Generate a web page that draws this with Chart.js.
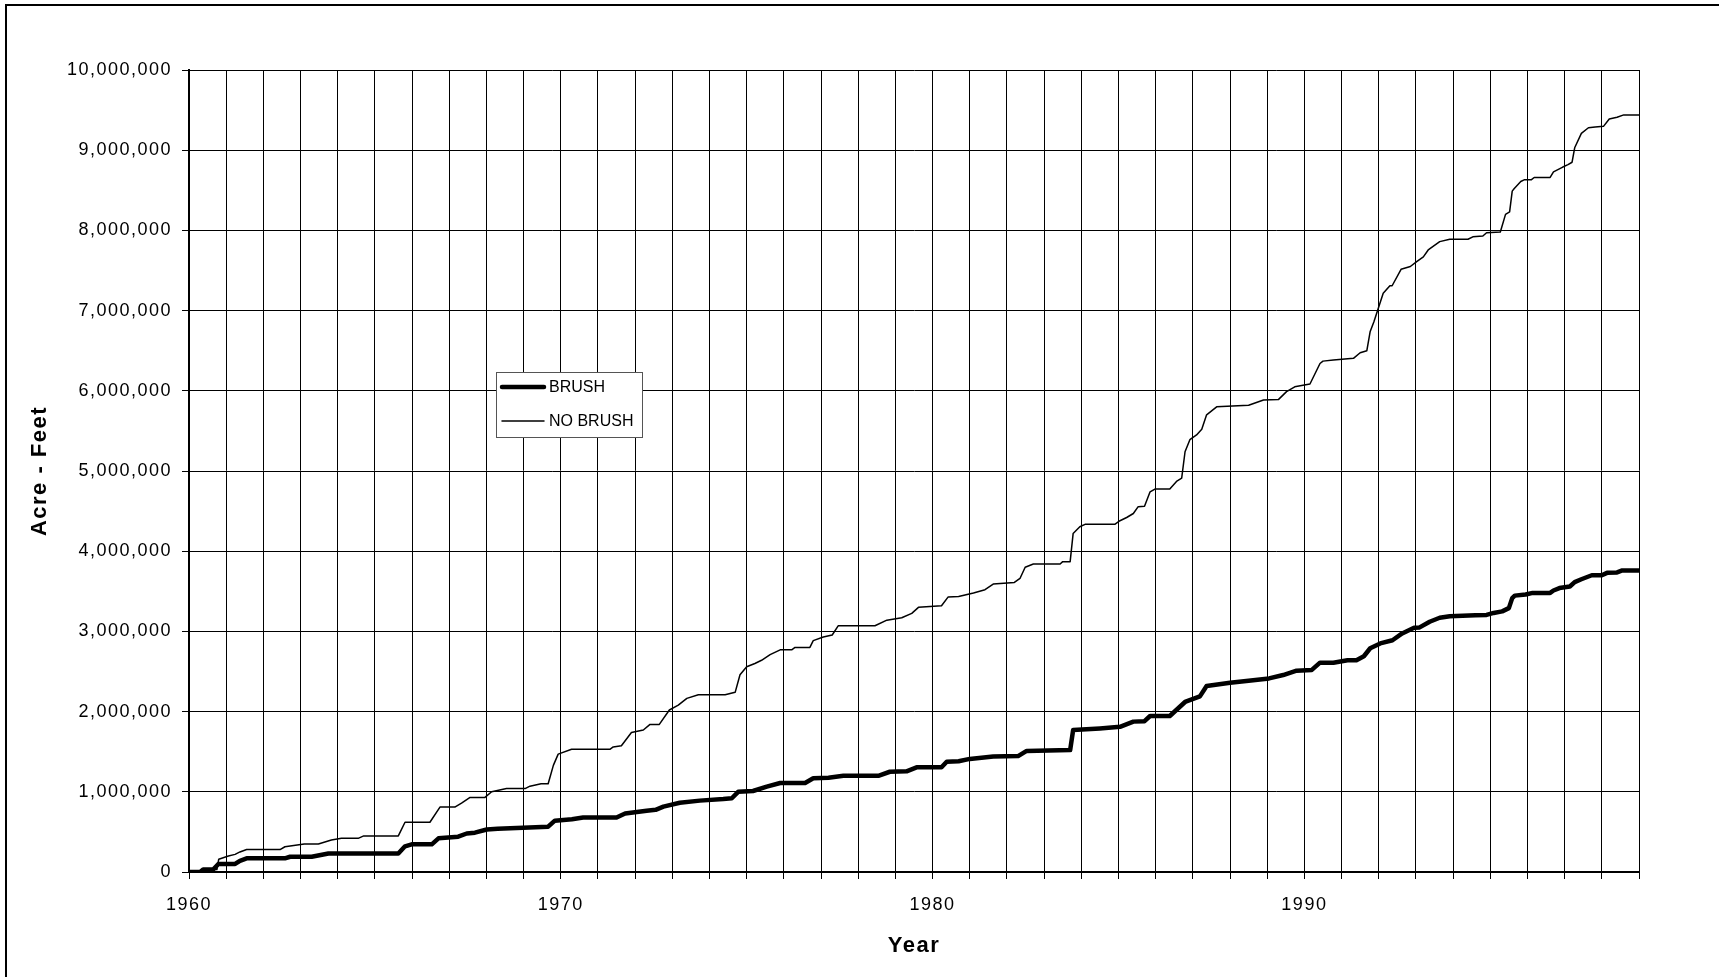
<!DOCTYPE html>
<html>
<head>
<meta charset="utf-8">
<title>Cumulative Acre-Feet, Brush vs. No Brush</title>
<script src="https://cdn.jsdelivr.net/npm/chart.js@4/dist/chart.umd.min.js"></script>
<style>
  html, body { margin: 0; padding: 0; background: #fff; }
  canvas { display: block; }
</style>
</head>
<body>
<canvas id="chart" width="1719" height="977"></canvas>
<script>
// Cumulative volume, [year, acre-feet] at each change of slope
const brush = [
  [1960.00, 0], [1960.30, 0], [1960.38, 30000], [1960.65, 30000], [1960.79, 100000],
  [1961.24, 100000], [1961.37, 140000], [1961.55, 170000], [1962.58, 170000], [1962.72, 190000],
  [1963.30, 190000], [1963.75, 230000], [1965.63, 230000], [1965.81, 320000], [1965.99, 345000],
  [1966.53, 345000], [1966.71, 420000], [1967.24, 440000], [1967.47, 480000], [1967.69, 490000],
  [1968.01, 530000], [1968.30, 540000], [1969.66, 565000], [1969.84, 640000], [1970.30, 657000],
  [1970.60, 680000], [1971.50, 680000], [1971.73, 730000], [1972.31, 765000], [1972.55, 775000],
  [1972.76, 815000], [1973.20, 864000], [1973.74, 890000], [1974.37, 910000], [1974.60, 920000],
  [1974.77, 1000000], [1975.17, 1010000], [1975.54, 1064000], [1975.90, 1110000], [1976.57, 1110000],
  [1976.79, 1168000], [1977.20, 1175000], [1977.60, 1200000], [1978.54, 1200000], [1978.85, 1250000],
  [1979.30, 1255000], [1979.57, 1305000], [1980.24, 1305000], [1980.38, 1375000], [1980.70, 1380000],
  [1981.00, 1410000], [1981.63, 1440000], [1982.30, 1445000], [1982.53, 1510000], [1983.70, 1520000],
  [1983.78, 1770000], [1984.50, 1790000], [1985.04, 1810000], [1985.40, 1875000], [1985.70, 1880000],
  [1985.85, 1945000], [1986.38, 1945000], [1986.79, 2120000], [1987.19, 2190000], [1987.37, 2320000],
  [1988.00, 2360000], [1988.50, 2385000], [1989.05, 2414000], [1989.43, 2456000], [1989.79, 2510000],
  [1990.20, 2520000], [1990.42, 2610000], [1990.78, 2610000], [1991.16, 2640000], [1991.40, 2640000],
  [1991.60, 2690000], [1991.77, 2790000], [1992.04, 2850000], [1992.37, 2890000], [1992.63, 2975000],
  [1992.95, 3046000], [1993.10, 3050000], [1993.37, 3120000], [1993.64, 3170000], [1993.91, 3190000],
  [1994.60, 3200000], [1994.90, 3205000], [1995.09, 3230000], [1995.32, 3250000], [1995.50, 3290000],
  [1995.59, 3415000], [1995.66, 3446000], [1995.95, 3460000], [1996.14, 3480000], [1996.61, 3480000],
  [1996.70, 3510000], [1996.86, 3540000], [1997.14, 3560000], [1997.27, 3615000], [1997.45, 3650000],
  [1997.73, 3700000], [1998.00, 3700000], [1998.14, 3730000], [1998.41, 3735000], [1998.55, 3760000],
  [1999.00, 3760000]
];

const noBrush = [
  [1960.00, 0], [1960.30, 0], [1960.40, 30000], [1960.75, 30000], [1960.80, 160000],
  [1961.06, 200000], [1961.24, 220000], [1961.37, 250000], [1961.55, 280000], [1962.45, 280000],
  [1962.58, 315000], [1963.10, 350000], [1963.48, 350000], [1963.83, 400000], [1964.10, 420000],
  [1964.55, 420000], [1964.70, 450000], [1965.63, 450000], [1965.81, 620000], [1966.48, 620000],
  [1966.75, 810000], [1967.15, 810000], [1967.33, 860000], [1967.56, 930000], [1967.96, 930000],
  [1968.14, 1000000], [1968.54, 1040000], [1969.04, 1040000], [1969.17, 1070000], [1969.47, 1100000],
  [1969.66, 1100000], [1969.80, 1330000], [1969.93, 1470000], [1970.29, 1530000], [1971.32, 1530000],
  [1971.41, 1560000], [1971.63, 1575000], [1971.90, 1740000], [1972.22, 1770000], [1972.40, 1840000],
  [1972.65, 1840000], [1972.92, 2020000], [1973.16, 2080000], [1973.39, 2165000], [1973.70, 2210000],
  [1974.42, 2210000], [1974.69, 2240000], [1974.82, 2460000], [1975.00, 2560000], [1975.22, 2600000],
  [1975.40, 2640000], [1975.63, 2710000], [1975.90, 2770000], [1976.21, 2770000], [1976.30, 2800000],
  [1976.70, 2800000], [1976.79, 2885000], [1977.06, 2930000], [1977.30, 2955000], [1977.46, 3070000],
  [1978.45, 3070000], [1978.77, 3140000], [1979.17, 3170000], [1979.44, 3225000], [1979.62, 3300000],
  [1980.24, 3320000], [1980.42, 3430000], [1980.70, 3435000], [1981.10, 3480000], [1981.41, 3520000],
  [1981.63, 3590000], [1982.20, 3610000], [1982.35, 3660000], [1982.49, 3800000], [1982.71, 3840000],
  [1983.43, 3840000], [1983.50, 3870000], [1983.70, 3870000], [1983.78, 4220000], [1983.96, 4305000],
  [1984.10, 4335000], [1984.90, 4335000], [1985.04, 4380000], [1985.22, 4420000], [1985.40, 4470000],
  [1985.53, 4555000], [1985.70, 4560000], [1985.85, 4740000], [1985.98, 4775000], [1986.38, 4775000],
  [1986.56, 4870000], [1986.70, 4910000], [1986.79, 5240000], [1986.92, 5390000], [1987.10, 5450000],
  [1987.24, 5520000], [1987.37, 5700000], [1987.64, 5800000], [1988.50, 5820000], [1988.90, 5885000],
  [1989.30, 5890000], [1989.52, 5990000], [1989.74, 6050000], [1990.15, 6085000], [1990.42, 6340000],
  [1990.50, 6370000], [1990.78, 6385000], [1991.32, 6405000], [1991.50, 6475000], [1991.68, 6500000],
  [1991.77, 6740000], [1991.87, 6860000], [1992.12, 7215000], [1992.30, 7310000], [1992.36, 7310000],
  [1992.60, 7515000], [1992.85, 7550000], [1993.02, 7610000], [1993.20, 7670000], [1993.33, 7756000],
  [1993.64, 7860000], [1993.91, 7890000], [1994.40, 7890000], [1994.53, 7920000], [1994.80, 7930000],
  [1994.90, 7970000], [1995.27, 7980000], [1995.41, 8200000], [1995.52, 8230000], [1995.59, 8490000],
  [1995.64, 8520000], [1995.82, 8610000], [1995.91, 8630000], [1996.10, 8630000], [1996.18, 8660000],
  [1996.61, 8660000], [1996.70, 8730000], [1996.95, 8790000], [1997.09, 8820000], [1997.20, 8850000],
  [1997.27, 9030000], [1997.45, 9210000], [1997.64, 9280000], [1997.82, 9290000], [1998.05, 9300000],
  [1998.20, 9390000], [1998.41, 9410000], [1998.59, 9440000], [1999.00, 9440000]
];

const seriesNames = ['BRUSH', 'NO BRUSH'];
const yearLabels = [1960, 1970, 1980, 1990];
const firstYear = 1960;
const lastYear = 1999;
const maxAcreFeet = 10000000;
const acreFeetStep = 1000000;

const FONT = "'Liberation Sans', Arial, Helvetica, sans-serif";

const toPoints = rows => rows.map(([x, y]) => ({ x, y }));

// White page with the outer frame (left and top edges), and tracked lettering for axis text
const pageFrame = {
  id: 'pageFrame',
  beforeDraw(chart) {
    const { ctx, width, height } = chart;
    ctx.save();
    ctx.fillStyle = '#fff';
    ctx.fillRect(0, 0, width, height);
    ctx.strokeStyle = '#000';
    ctx.lineWidth = 2;
    ctx.beginPath();
    ctx.moveTo(6, height);
    ctx.lineTo(6, 5);
    ctx.lineTo(width, 5);
    ctx.stroke();
    ctx.restore();
    ctx.letterSpacing = '1.5px';
  },
  afterDraw(chart) {
    chart.ctx.letterSpacing = '0px';
  }
};

// Boxed legend inside the plot area
const legendBox = {
  id: 'legendBox',
  afterDraw(chart, args, opts) {
    const { ctx, chartArea } = chart;
    const x = chartArea.left + opts.offsetX;
    const y = chartArea.top + opts.offsetY;
    ctx.save();
    ctx.letterSpacing = '0px';
    ctx.fillStyle = '#fff';
    ctx.fillRect(x, y, opts.width, opts.height);
    ctx.strokeStyle = '#555';
    ctx.lineWidth = 1;
    ctx.strokeRect(x + 0.5, y + 0.5, opts.width, opts.height);
    chart.data.datasets.forEach((ds, i) => {
      const ly = y + opts.firstRow + i * opts.rowGap;
      ctx.beginPath();
      ctx.strokeStyle = ds.borderColor;
      ctx.lineWidth = ds.borderWidth;
      ctx.lineCap = 'round';
      ctx.moveTo(x + opts.sampleStart, ly);
      ctx.lineTo(x + opts.sampleStart + opts.sampleLength, ly);
      ctx.stroke();
      ctx.fillStyle = '#000';
      ctx.font = `16px ${FONT}`;
      ctx.textBaseline = 'middle';
      ctx.textAlign = 'left';
      ctx.fillText(ds.label, x + opts.textStart, ly + 1);
    });
    ctx.restore();
  }
};

// Pin the plot area: y-axis band 189px wide, x-axis band 105px tall
const fixWidth = w => scale => { scale.width = w; };
const fixHeight = h => scale => { scale.height = h; };

new Chart(document.getElementById('chart'), {
  type: 'line',
  data: {
    datasets: [
      {
        label: seriesNames[0],
        data: toPoints(brush),
        borderColor: '#000',
        borderWidth: 4.5,
        borderJoinStyle: 'round',
        pointRadius: 0,
        tension: 0,
        fill: false
      },
      {
        label: seriesNames[1],
        data: toPoints(noBrush),
        borderColor: '#000',
        borderWidth: 1.5,
        borderJoinStyle: 'round',
        pointRadius: 0,
        tension: 0,
        fill: false
      }
    ]
  },
  options: {
    responsive: false,
    animation: false,
    devicePixelRatio: 1,
    layout: { padding: { top: 70, right: 80, left: 0, bottom: 0 } },
    plugins: {
      legend: { display: false },
      tooltip: { enabled: false },
      legendBox: {
        offsetX: 307, offsetY: 302, width: 146, height: 65,
        firstRow: 15, rowGap: 34,
        sampleStart: 6, sampleLength: 42, textStart: 53
      }
    },
    scales: {
      x: {
        type: 'linear',
        min: firstYear,
        max: lastYear,
        afterFit: fixHeight(105),
        grid: { color: '#000', lineWidth: 1, tickLength: 7, drawTicks: true },
        border: { display: true, color: '#000', width: 2 },
        ticks: {
          stepSize: 1,
          autoSkip: false,
          maxRotation: 0,
          color: '#000',
          padding: 15,
          font: { family: FONT, size: 18 },
          callback: v => (yearLabels.includes(v) ? String(v) : '')
        },
        title: {
          display: true,
          text: 'Year',
          color: '#000',
          font: { family: FONT, size: 22, weight: 'bold' },
          padding: { top: 0, bottom: 18 }
        }
      },
      y: {
        min: 0,
        max: maxAcreFeet,
        afterFit: fixWidth(189),
        grid: { color: '#000', lineWidth: 1, tickLength: 7, drawTicks: true },
        border: { display: true, color: '#000', width: 2 },
        ticks: {
          stepSize: acreFeetStep,
          color: '#000',
          padding: 10,
          font: { family: FONT, size: 18 },
          callback: v => v.toLocaleString('en-US')
        },
        title: {
          display: true,
          text: 'Acre - Feet',
          color: '#000',
          font: { family: FONT, size: 22, weight: 'bold' },
          padding: { top: 27, bottom: 0 }
        }
      }
    }
  },
  plugins: [pageFrame, legendBox]
});
</script>
</body>
</html>
